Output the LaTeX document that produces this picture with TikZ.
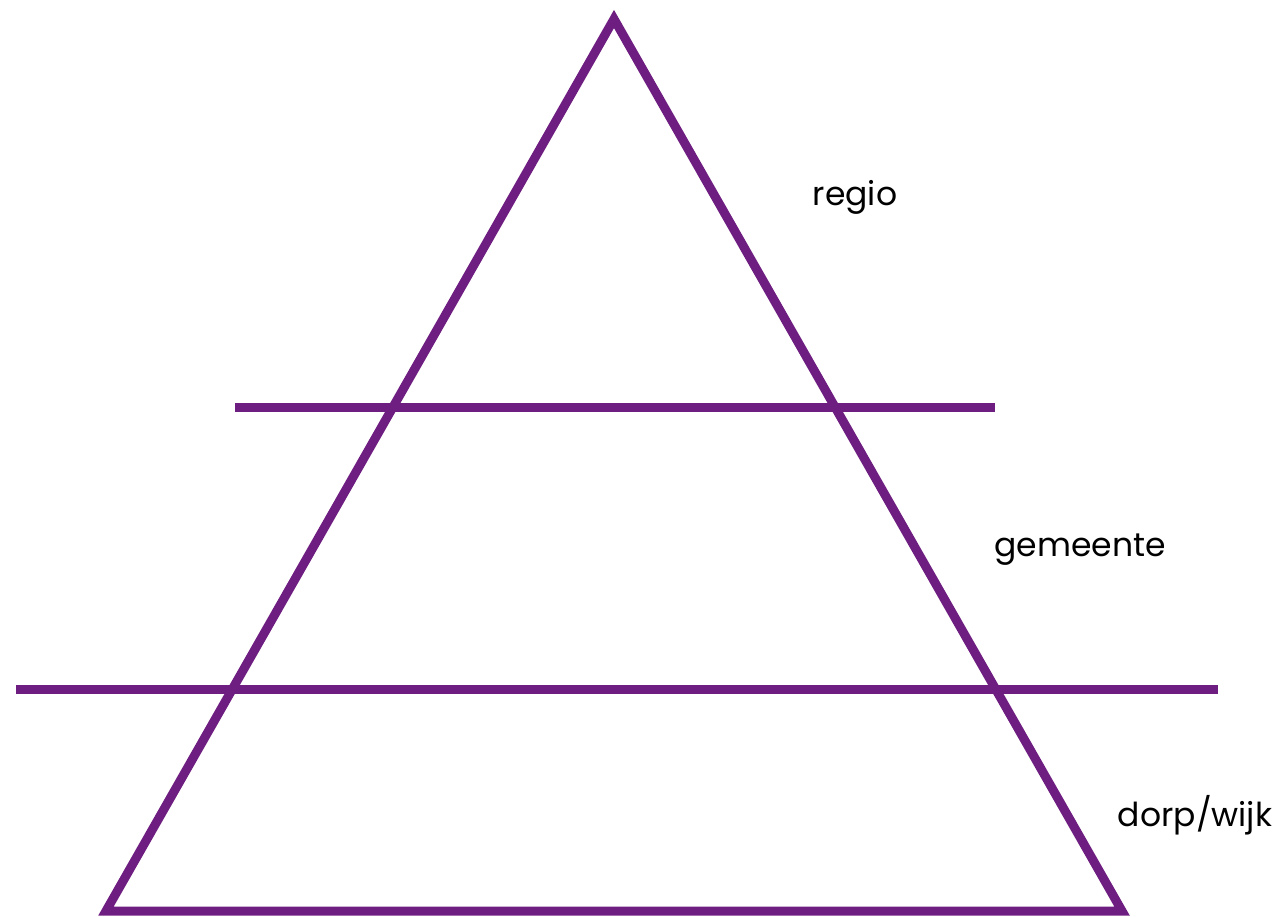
\documentclass[tikz,border=0pt]{standalone}
\usepackage{fontspec}
\setmainfont{Poppins}
\usepackage{xcolor}
\usepackage{tikz}
\usetikzlibrary{positioning}
\definecolor{paars}{HTML}{6E1E80}

\begin{document}
\begin{tikzpicture}[x=1pt, y=-1pt,
      layer/.style={draw=paars, line width=9pt},
      level/.style={font=\fontsize{33}{40}\selectfont, text=black}]
    \useasboundingbox (0,0) rectangle (1285,917);
    \coordinate (top) at (614,19);
    \coordinate (bl) at (106,911);
    \coordinate (br) at (1122,911);
    \draw[layer, line join=miter] (top) -- (br) -- (bl) -- cycle;
    \draw[layer] (235,407) -- (995,407);
    \draw[layer] (16,689) -- (1218,689);
    \node[level] (regio) at (855,197) {regio};
    \node[level] (gemeente) at (1080,550) {gemeente};
    \node[level] (dorp) at (1195,815) {dorp/wijk};
  \end{tikzpicture}
\end{document}
